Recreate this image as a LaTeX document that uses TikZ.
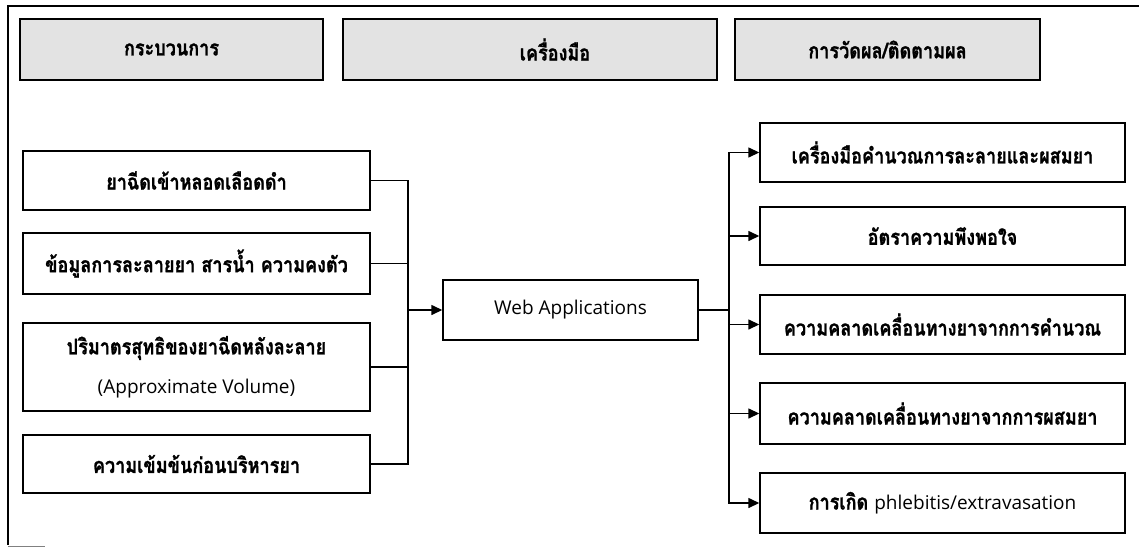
\documentclass[tikz,border=0pt]{standalone}
\usepackage{fontspec}
\newfontfamily\thai[Script=Thai, BoldFeatures={FakeBold=1.2}]{Loma}
\newfontfamily\latin{Open Sans}
\usetikzlibrary{arrows.meta}
\newcommand{\lat}[1]{{\latin\mdseries\fontsize{19}{39}\selectfont #1}}
\newcommand{\tht}[1]{\scalebox{0.84}[1]{\thai\bfseries\fontsize{21.5}{26}\selectfont #1}}
\newcommand{\thh}[1]{\scalebox{0.84}[1]{\thai\bfseries\fontsize{21.5}{26}\selectfont #1}}
\begin{document}
\begin{tikzpicture}[x=1pt,y=-1pt,
  box/.style={draw, line width=1.4pt, rectangle, inner sep=0pt, align=center,
    font=\thai\bfseries\fontsize{18}{39}\selectfont},
  lbox/.style={box, minimum width=347pt},
  rbox/.style={box, minimum width=365pt},
  hdr/.style={draw, line width=1.6pt, fill=gray!22, inner sep=0pt, minimum height=61pt},
  conn/.style={line width=1.4pt},
  arr/.style={conn, -{Triangle[length=11pt,width=10pt]}},
  frame/.style={line width=1.6pt}]
\useasboundingbox (0,0) rectangle (1139,551);
% outer frame
\draw[frame] (1139,6) -- (8,6) -- (8,545);
\draw[line width=0.6pt, gray] (8,546) -- (45,546);
% headers
\node[hdr, minimum width=303pt] (h1) at (171.5,49.5) {\raisebox{-4pt}{\thh{กระบวนการ}}};
\node[hdr, minimum width=374pt] (h2) at (530,49.5) {\hspace*{50pt}\raisebox{-4pt}{\thh{เครื่องมือ}}};
\node[hdr, minimum width=305pt] (h3) at (887.5,49.5) {\raisebox{-4pt}{\thh{การวัดผล/ติดตามผล}}};
% left boxes
\node[lbox, minimum height=59pt] (l1) at (196.5,180.5) {\tht{ยาฉีดเข้าหลอดเลือดดำ}};
\node[lbox, minimum height=61pt] (l2) at (196.5,263.5) {\tht{ข้อมูลการละลายยา สารน้ำ ความคงตัว}};
\node[lbox, minimum height=88pt] (l3) at (196.5,367) {\tht{ปริมาตรสุทธิของยาฉีดหลังละลาย}\\\lat{(Approximate Volume)}};
\node[lbox, minimum height=58pt] (l4) at (196.5,464) {\tht{ความเข้มข้นก่อนบริหารยา}};
% center
\node[box, minimum width=255pt, minimum height=60pt, font=\latin\fontsize{19}{22}\selectfont] (w) at (570.5,310) {Web Applications};
% right boxes
\node[rbox, minimum height=59pt] (r1) at (942.5,152.5) {\tht{เครื่องมือคำนวณการละลายและผสมยา}};
\node[rbox, minimum height=58pt] (r2) at (942.5,236) {\tht{อัตราความพึงพอใจ}};
\node[rbox, minimum height=59pt] (r3) at (942.5,324.5) {\tht{ความคลาดเคลื่อนทางยาจากการคำนวณ}};
\node[rbox, minimum height=61pt] (r4) at (942.5,413.5) {\tht{ความคลาดเคลื่อนทางยาจากการผสมยา}};
\node[rbox, minimum height=60pt] (r5) at (942.5,503) {\tht{การเกิด} \lat{phlebitis/extravasation}};
% junctions
\coordinate (jl) at (408,310);
\coordinate (jr) at (729,310);
\foreach \n in {l1,l2,l3,l4} \draw[conn] (\n.east) -| (jl);
\draw[arr] (jl) -- (w.west);
\draw[conn] (w.east) -- (jr);
\foreach \n in {r1,r2,r3,r4,r5} \draw[arr] (jr) |- (\n.west);
\end{tikzpicture}
\end{document}
